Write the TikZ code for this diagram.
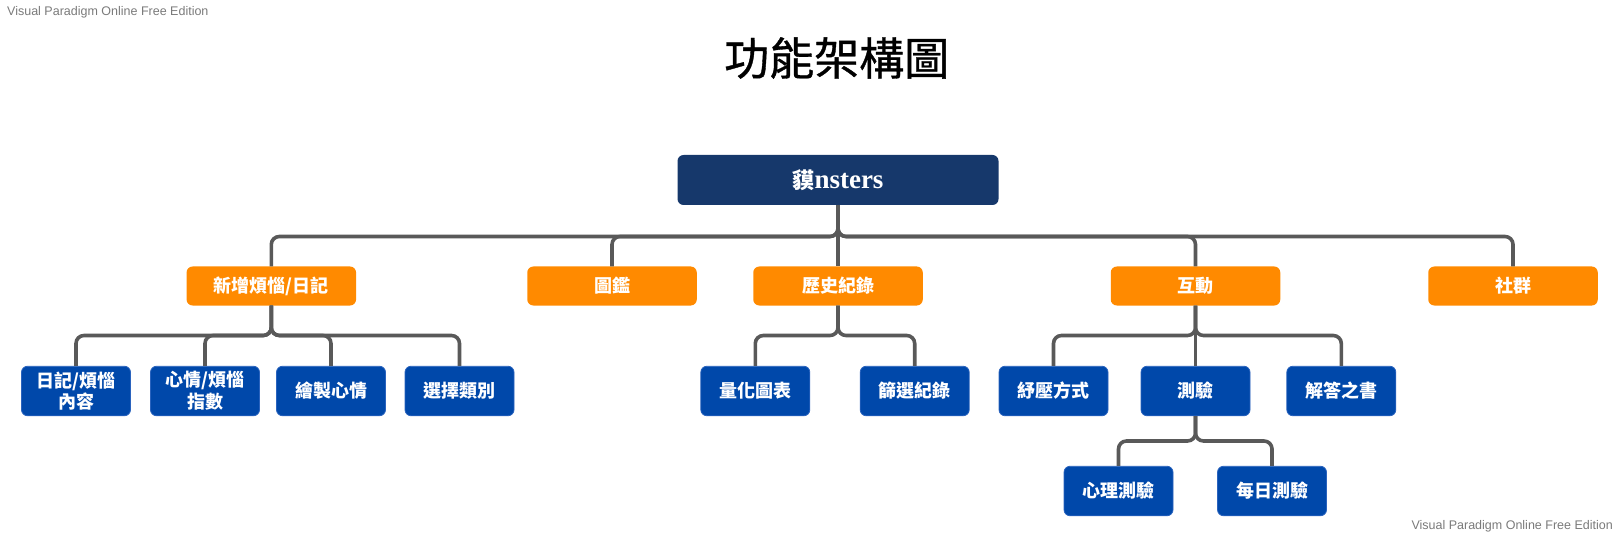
\documentclass[tikz,border=0pt]{standalone}
\usepackage{fontspec}
\usepackage{tikz}
\setmainfont{Liberation Sans}
\newfontfamily\cjk{Noto Sans CJK TC}
\newfontfamily\cjktitle{Noto Sans CJK TC}[FakeBold=0.8]
\newfontfamily\serifb{Liberation Serif}
\definecolor{rootblue}{HTML}{16386B}
\definecolor{tabor}{HTML}{FF8A00}
\definecolor{boxblue}{HTML}{0048AA}
\definecolor{boxedge}{HTML}{2A63BE}
\definecolor{linkgray}{HTML}{595959}
\definecolor{markgray}{HTML}{7A7A7A}

\begin{document}
\begin{tikzpicture}[x=1pt,y=-1pt,
  rootbox/.style={fill=rootblue,rounded corners=6pt,minimum width=321pt,minimum height=50pt,inner sep=0pt},
  groupbox/.style={fill=tabor,rounded corners=6pt,minimum width=169.5pt,minimum height=39pt,inner sep=0pt,text=white,font=\cjk\bfseries\fontsize{18pt}{20pt}\selectfont},
  itembox/.style={fill=boxblue,draw=boxedge,line width=0.8pt,rounded corners=6pt,minimum width=109pt,minimum height=49.5pt,inner sep=0pt,text=white,align=center,font=\cjk\bfseries\fontsize{18pt}{21.7pt}\selectfont},
  link/.style={draw=linkgray,line width=3.6pt,rounded corners=8pt},
  wmark/.style={text=markgray,font=\fontsize{12.5pt}{14pt}\selectfont,inner sep=0pt}]
  \useasboundingbox (0,0) rectangle (1619,537);
  \node[wmark,anchor=west] (markTL) at (7,12.3) {Visual Paradigm Online Free Edition};
  \node[wmark,anchor=east] (markBR) at (1613,526.7) {Visual Paradigm Online Free Edition};
  \node (title) at (836.7,58) {\cjktitle\fontsize{45pt}{50pt}\selectfont 功能架構圖};
  % bus levels
  \coordinate (bus1) at (0,236.5);
  \coordinate (bus2) at (0,335.5);
  \coordinate (bus3) at (0,441);
  % boxes
  \node[rootbox] (root) at (838,180) {\textcolor{white}{{\cjk\bfseries\fontsize{22pt}{24pt}\selectfont 貘}{\serifb\bfseries\fontsize{27pt}{28pt}\selectfont nsters}}};
  \node[groupbox] (add) at (271.3,286) {新增煩惱/日記};
  \node[groupbox] (dex) at (612,286) {圖鑑};
  \node[groupbox] (hist) at (838,286) {歷史紀錄};
  \node[groupbox] (inter) at (1195.5,286) {互動};
  \node[groupbox] (soc) at (1513,286) {社群};
  \node[itembox] (diary) at (76,391) {日記/煩惱\\內容};
  \node[itembox] (mood) at (205,391) {心情/煩惱\\指數};
  \node[itembox] (draw) at (331,391) {繪製心情};
  \node[itembox] (kind) at (459.5,391) {選擇類別};
  \node[itembox] (chart) at (755.3,391) {量化圖表};
  \node[itembox] (filt) at (914.7,391) {篩選紀錄};
  \node[itembox] (relax) at (1053.5,391) {紓壓方式};
  \node[itembox] (test) at (1195.5,391) {測驗};
  \node[itembox] (book) at (1341.3,391) {解答之書};
  \node[itembox] (psy) at (1118.5,491) {心理測驗};
  \node[itembox] (daily) at (1272,491) {每日測驗};
  % connectors
  \draw[link] (root.south) -- (root.south |- bus1) -- (add.north |- bus1) -- (add.north);
  \draw[link] (root.south) -- (root.south |- bus1) -- (dex.north |- bus1) -- (dex.north);
  \draw[link] (root.south) -- (hist.north);
  \draw[link] (root.south) -- (root.south |- bus1) -- (inter.north |- bus1) -- (inter.north);
  \draw[link] (root.south) -- (root.south |- bus1) -- (soc.north |- bus1) -- (soc.north);
  \draw[link] (add.south) -- (add.south |- bus2) -- (diary.north |- bus2) -- (diary.north);
  \draw[link] (add.south) -- (add.south |- bus2) -- (mood.north |- bus2) -- (mood.north);
  \draw[link] (add.south) -- (add.south |- bus2) -- (draw.north |- bus2) -- (draw.north);
  \draw[link] (add.south) -- (add.south |- bus2) -- (kind.north |- bus2) -- (kind.north);
  \draw[link] (hist.south) -- (hist.south |- bus2) -- (chart.north |- bus2) -- (chart.north);
  \draw[link] (hist.south) -- (hist.south |- bus2) -- (filt.north |- bus2) -- (filt.north);
  \draw[link] (inter.south) -- (inter.south |- bus2) -- (relax.north |- bus2) -- (relax.north);
  \draw[link] (inter.south) -- (test.north);
  \draw[link] (inter.south) -- (inter.south |- bus2) -- (book.north |- bus2) -- (book.north);
  \draw[link] (test.south) -- (test.south |- bus3) -- (psy.north |- bus3) -- (psy.north);
  \draw[link] (test.south) -- (test.south |- bus3) -- (daily.north |- bus3) -- (daily.north);
\end{tikzpicture}
\end{document}
